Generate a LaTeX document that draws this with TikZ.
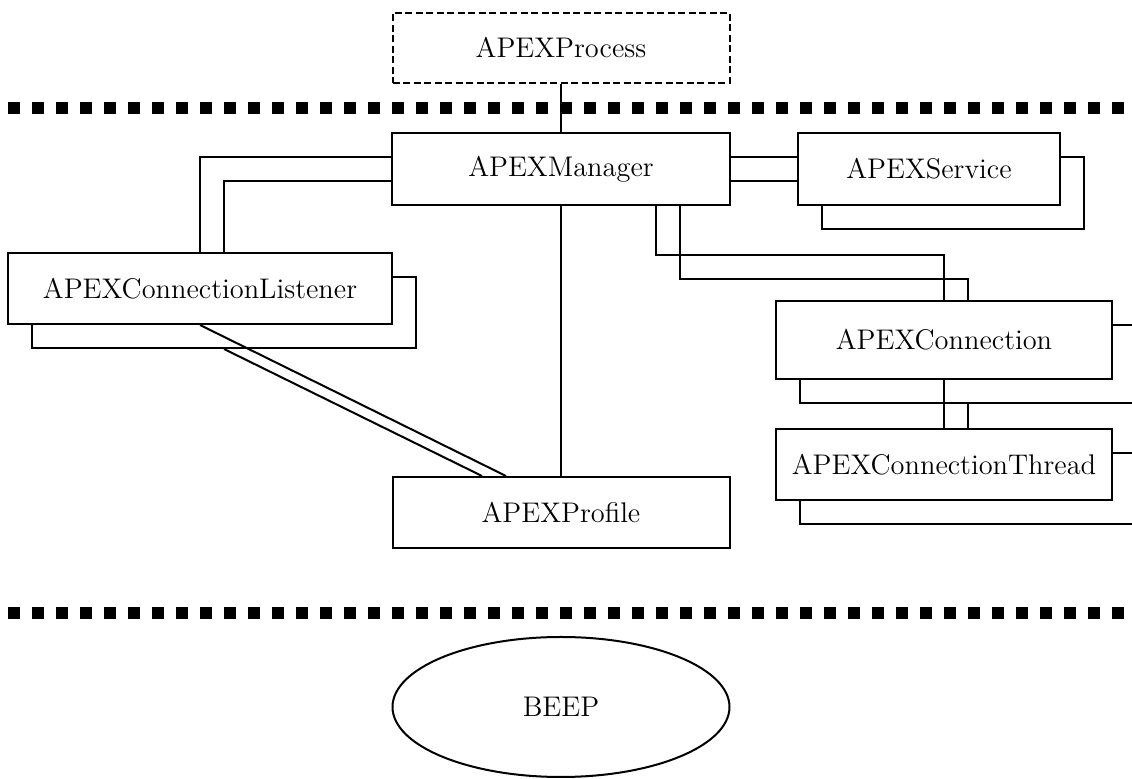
\documentclass[tikz,border=0pt]{standalone}
\usetikzlibrary{shapes.geometric,shadows,calc}
\begin{document}
\begin{tikzpicture}[x=0.5pt,y=-0.5pt,line width=1pt,
  font=\fontsize{14.2}{17}\selectfont,
  obj/.style={draw,fill=white,rectangle,inner sep=0pt,minimum height=36pt},
  multi/.style={obj,copy shadow={shadow xshift=12pt,shadow yshift=-12pt,draw=black,fill=white,line width=1pt}},
  layer/.style={line width=6pt,dash pattern=on 6pt off 6pt}]
\useasboundingbox (0,0) rectangle (1132,779);
\clip (0,0) rectangle (1132,779);
\draw [layer] (8,108)--(1140,108);
\draw [layer] (8,613)--(1140,613);
\node [obj,dashed,dash pattern=on 3.5pt off 1.75pt,minimum width=168.5pt,minimum height=35pt] (proc) at (561,48) {APEXProcess};
\node [obj,minimum width=169pt] (mgr) at (561,169) {APEXManager};
\node [multi,minimum width=131pt] (svc) at (929,169) {APEXService};
\node [multi,minimum width=192pt,minimum height=35.5pt] (lis) at (200,288.5) {APEXConnectionListener};
\node [multi,minimum width=168pt,minimum height=39pt] (conn) at (944,340) {APEXConnection};
\node [multi,minimum width=168pt,minimum height=35.5pt] (thr) at (944,464.5) {APEXConnectionThread};
\node [obj,minimum width=168.5pt,minimum height=35.5pt] (prof) at (561,512.5) {APEXProfile};
\node [draw,ellipse,inner sep=0pt,minimum width=168.5pt,minimum height=70pt] (beep) at (561,707) {BEEP};
\draw (proc.south)--(mgr.north);
\draw (mgr.south)--(prof.north);
\draw ($(mgr.west)+(0,-12)$) -| (lis.north);
\draw ($(mgr.west)+(0,12)$) -| ($(lis.north)+(24,0)$);
\draw ($(mgr.east)+(0,-12)$)--($(svc.west)+(0,-12)$);
\draw ($(mgr.east)+(0,12)$)--($(svc.west)+(0,12)$);
\draw ($(mgr.south)+(95,0)$)--++(0,49) -| (conn.north);
\draw ($(mgr.south)+(119,0)$)--++(0,73) -| ($(conn.north)+(24,0)$);
\draw (conn.south)--(thr.north);
\draw ($(conn.south)+(24,24)$)--($(thr.north)+(24,0)$);
\draw (lis.south)--($(prof.north)+(-55,0)$);
\draw ($(lis.south)+(24,24)$)--($(prof.north)+(-79,0)$);
\end{tikzpicture}
\end{document}
